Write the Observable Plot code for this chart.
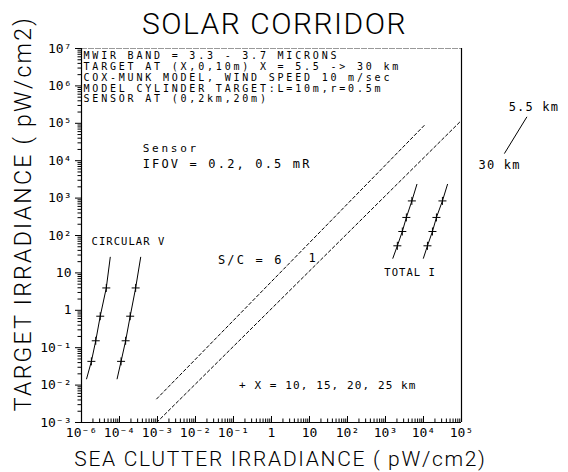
<!DOCTYPE html>
<html><head><meta charset="utf-8">
<script src="https://cdn.jsdelivr.net/npm/d3@7"></script>
<script src="https://cdn.jsdelivr.net/npm/@observablehq/plot@0.6"></script>
<style>
body{margin:0;background:#fff;}
#chart svg{display:block;}
</style></head><body><div id="chart"></div>
<script>
// ---------- data ----------
const xDomain = [1e-5, 1e5];
const yDomain = [1e-3, 1e7];
const xTickValues = [1e-5, 1e-4, 1e-3, 1e-2, 1e-1, 1, 10, 100, 1e3, 1e4, 1e5];
const xTickLabels = ["10⁻⁶", "10⁻⁴", "10⁻³", "10⁻²", "10⁻¹", "1", "10", "10²", "10³", "10⁴", "10⁵"];
const yTickValues = [1e-3, 1e-2, 1e-1, 1, 10, 100, 1e3, 1e4, 1e5, 1e6, 1e7];
const yTickLabels = ["10⁻³", "10⁻²", "10⁻¹", "1", "10", "10²", "10³", "10⁴", "10⁵", "10⁶", "10⁷"];

const title = "SOLAR CORRIDOR";
const xLabel = "SEA CLUTTER IRRADIANCE ( pW/cm2)";
const yLabel = "TARGET IRRADIANCE ( pW/cm2)";
const infoLines = [
  "MWIR BAND = 3.3 - 3.7 MICRONS",
  "TARGET AT (X,0,10m) X = 5.5 -> 30 km",
  "COX-MUNK MODEL, WIND SPEED 10 m/sec",
  "MODEL CYLINDER TARGET:L=10m,r=0.5m",
  "SENSOR AT (0,2km,20m)"
];

// range of target (km): first = 5.5 km end, last = 30 km end, middle ones marked "+"
const rangeKm = [5.5, 10, 15, 20, 25, 30];
const circularVTarget = [26.2, 3.96, 0.695, 0.153, 0.0431, 0.0147];
const circularVClutterIfov02 = [5.71e-5, 4.49e-5, 3.11e-5, 2.37e-5, 1.82e-5, 1.36e-5];
const circularVClutterIfov05 = [3.61e-4, 2.66e-4, 1.91e-4, 1.45e-4, 1.10e-4, 8.65e-5];
const totalITarget = [2330, 841, 304, 128, 53, 24.6];
const totalIClutterIfov02 = [6700, 4940, 3540, 2770, 2050, 1560];
const totalIClutterIfov05 = [42800, 31500, 21900, 17200, 12700, 9930];
const markedRangesKm = [10, 15, 20, 25];

// signal-to-clutter reference lines
const sc6Clutter = [9.5e-4, 1.06e4];
const sc6Target = [4.27e-3, 8.9e4];
const sc1Clutter = [9.5e-4, 1e5];
const sc1Target = [1e-3, 1.2e5];

// annotations (text, clutter, target)
const notesText = ["Sensor", "IFOV = 0.2, 0.5 mR", "CIRCULAR V", "S/C = 6", "1", "TOTAL I", "+ X = 10, 15, 20, 25 km", "5.5 km", "30 km"];
const notesX = [4.07e-4, 4.07e-4, 1.84e-5, 0.0388, 11.7, 929, 0.139, 1.74e6, 2.81e5];
const notesY = [2.15e4, 8.0e3, 69, 21.4, 24.2, 10.2, 9.5e-3, 2.7e5, 7.5e3];
const pointerX = [5.2e6, 1.36e6];
const pointerY = [1.46e5, 1.58e4];

// ---------- build tables ----------
const curves = [];
function addCurve(name, xs, ys) {
  xs.forEach((x, i) => curves.push({name, km: rangeKm[i], x, y: ys[i]}));
}
addCurve("V 0.2", circularVClutterIfov02, circularVTarget);
addCurve("V 0.5", circularVClutterIfov05, circularVTarget);
addCurve("I 0.2", totalIClutterIfov02, totalITarget);
addCurve("I 0.5", totalIClutterIfov05, totalITarget);
const marked = curves.filter(d => markedRangesKm.includes(d.km));

const scLines = [];
sc6Clutter.forEach((x, i) => scLines.push({name: "6", x, y: sc6Target[i]}));
sc1Clutter.forEach((x, i) => scLines.push({name: "1", x, y: sc1Target[i]}));

const notes = notesText.map((t, i) => ({text: t, x: notesX[i], y: notesY[i]}));
const note = t => notes.filter(d => d.text === t);
const pointer = pointerX.map((x, i) => ({x, y: pointerY[i]}));

const xLabelOf = new Map(xTickValues.map((v, i) => [v, xTickLabels[i]]));
const yLabelOf = new Map(yTickValues.map((v, i) => [v, yTickLabels[i]]));
function minors(lo, hi) {
  const out = [];
  for (let e = Math.log10(lo); e < Math.log10(hi); e++)
    for (let k = 2; k <= 9; k++) out.push(k * Math.pow(10, e));
  return out;
}
const xMinor = minors(xDomain[0], xDomain[1]);
const yMinor = minors(yDomain[0], yDomain[1]);

// ---------- layout ----------
const W = 568, H = 472;
const mL = 81, mR = 107, mT = 48, mB = 50;
const plotW = W - mL - mR, plotH = H - mT - mB;
const mono = "DejaVu Sans Mono";
const light = "Roboto, 'Open Sans', sans-serif";

const spacing = [];
function T(data, opts, ls) { spacing.push(ls); return Plot.text(data, opts); }

const chart = Plot.plot({
  width: W, height: H,
  marginLeft: mL, marginRight: mR, marginTop: mT, marginBottom: mB,
  x: {type: "log", domain: xDomain},
  y: {type: "log", domain: yDomain},
  style: {background: "#fff", color: "#000", fontFamily: mono},
  marks: [
    // frame
    Plot.ruleY([yDomain[1]], {stroke: "#999", strokeWidth: 1, strokeDasharray: "6,1"}),
    Plot.ruleX([xDomain[1]], {stroke: "#000", strokeWidth: 1.2}),
    Plot.ruleX([xDomain[0]], {stroke: "#000", strokeWidth: 1.2}),
    Plot.ruleY([yDomain[0]], {stroke: "#000", strokeWidth: 1.2}),
    // ticks
    Plot.tickX(xMinor, {x: d => d, insetTop: plotH - 3.5, stroke: "#000"}),
    Plot.tickX(xTickValues, {x: d => d, insetTop: plotH - 6, stroke: "#000"}),
    Plot.tickY(yMinor, {y: d => d, insetLeft: -3.5, insetRight: plotW, stroke: "#000"}),
    Plot.axisX(xTickValues, {tickSize: 0, tickPadding: 5, tickFormat: d => xLabelOf.get(d), fontSize: 13, fontFamily: mono, label: null}),
    Plot.axisY(yTickValues, {tickSize: 6, tickPadding: 4, tickFormat: d => yLabelOf.get(d), fontSize: 13, fontFamily: mono, label: null}),
    // S/C lines
    Plot.line(scLines, {x: "x", y: "y", z: "name", stroke: "#000", strokeWidth: 1, strokeDasharray: "3,2.5"}),
    // curves
    Plot.line(curves, {x: "x", y: "y", z: "name", stroke: "#000", strokeWidth: 1}),
    Plot.dot(marked, {x: "x", y: "y", symbol: "plus", r: 2.7, stroke: "#000", strokeWidth: 1}),
    Plot.line(pointer, {x: "x", y: "y", stroke: "#000", strokeWidth: 1}),
    // texts
    T([title], {text: d => d, frameAnchor: "top", dx: 3, dy: -24, lineAnchor: "middle", textAnchor: "middle", fontSize: 30, fontFamily: light, fontWeight: 300}, "0.05em"),
    T([yLabel], {text: d => d, frameAnchor: "left", rotate: -90, dx: -58, dy: -22, lineAnchor: "middle", textAnchor: "middle", fontSize: 23, fontFamily: light, fontWeight: 300}, "0.1em"),
    T([xLabel], {text: d => d, frameAnchor: "bottom", dx: 9, dy: 37, lineAnchor: "middle", textAnchor: "middle", fontSize: 21, fontFamily: light, fontWeight: 300}, "0.08em"),
    T([infoLines.join("\n")], {text: d => d, frameAnchor: "top-left", dx: 2, dy: 3, lineAnchor: "top", textAnchor: "start", lineHeight: 1.08, fontSize: 10, fontFamily: mono}, "0.28em"),
    T(note("Sensor"), {x: "x", y: "y", text: "text", textAnchor: "start", fontSize: 11, fontFamily: mono}, "0.25em"),
    T(note("IFOV = 0.2, 0.5 mR"), {x: "x", y: "y", text: "text", textAnchor: "start", fontSize: 12, fontFamily: mono}, "0.18em"),
    T(note("CIRCULAR V"), {x: "x", y: "y", text: "text", textAnchor: "start", fontSize: 10.5, fontFamily: mono}, "0.1em"),
    T(note("S/C = 6"), {x: "x", y: "y", text: "text", textAnchor: "start", fontSize: 12, fontFamily: mono}, "0.18em"),
    T(note("1"), {x: "x", y: "y", text: "text", textAnchor: "middle", fontSize: 12, fontFamily: mono}, "0"),
    T(note("TOTAL I"), {x: "x", y: "y", text: "text", textAnchor: "start", fontSize: 10.5, fontFamily: mono}, "0.1em"),
    T(note("+ X = 10, 15, 20, 25 km"), {x: "x", y: "y", text: "text", textAnchor: "start", fontSize: 11, fontFamily: mono}, "0.1em"),
    T(note("5.5 km"), {x: "x", y: "y", text: "text", textAnchor: "start", fontSize: 12, fontFamily: mono}, "0.1em"),
    T(note("30 km"), {x: "x", y: "y", text: "text", textAnchor: "start", fontSize: 12, fontFamily: mono}, "0.1em")
  ]
});
chart.querySelectorAll('g[aria-label="text"]').forEach((g, i) => {
  if (spacing[i] !== undefined) g.style.letterSpacing = spacing[i];
});
document.getElementById("chart").appendChild(chart);
</script>
</body></html>
